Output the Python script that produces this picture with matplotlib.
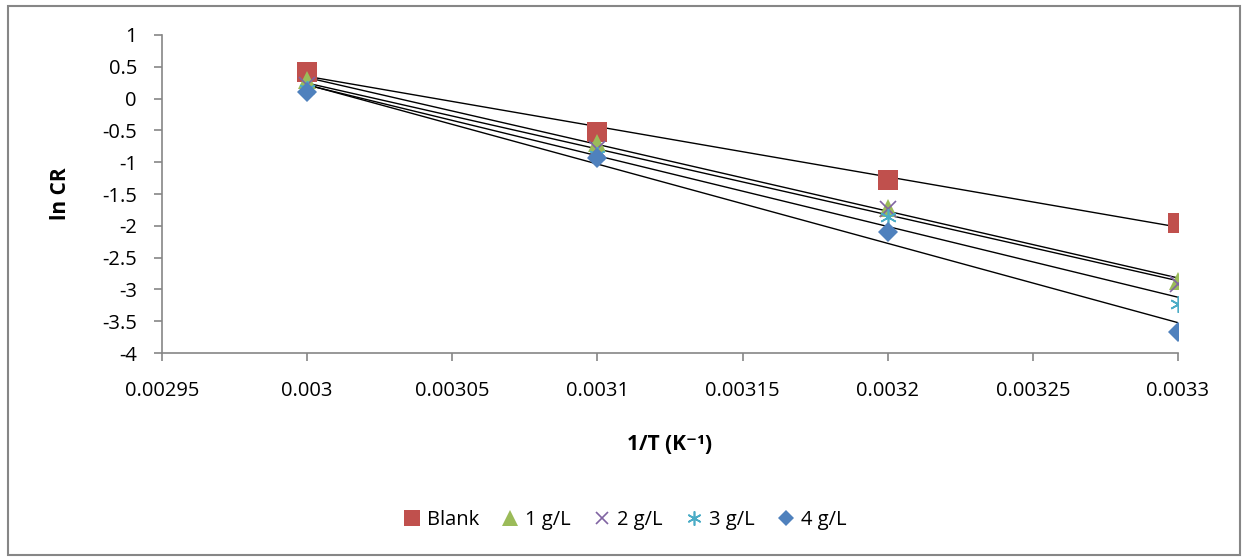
import matplotlib
matplotlib.use("Agg")
import matplotlib.pyplot as plt
from matplotlib.patches import Rectangle
import numpy as np

# ----- DATA -----
inv_T = [0.0030, 0.0031, 0.0032, 0.0033]
blank = [0.42, -0.52, -1.28, -1.96]
c1 = [0.30, -0.70, -1.72, -2.86]
c2 = [0.22, -0.80, -1.74, -2.92]
c3 = [0.15, -0.88, -1.86, -3.23]
c4 = [0.10, -0.94, -2.10, -3.67]

labels = ["Blank", "1 g/L", "2 g/L", "3 g/L", "4 g/L"]
x_ticks = [0.00295, 0.003, 0.00305, 0.0031, 0.00315, 0.0032, 0.00325, 0.0033]
x_tick_labels = ["0.00295", "0.003", "0.00305", "0.0031", "0.00315", "0.0032", "0.00325", "0.0033"]
y_ticks = [1, 0.5, 0, -0.5, -1, -1.5, -2, -2.5, -3, -3.5, -4]

# ----- STYLE -----
plt.rcParams['font.family'] = ['Open Sans', 'DejaVu Sans']
series = [blank, c1, c2, c3, c4]
colors = ['#C0504D', '#9BBB59', '#8064A2', '#4BACC6', '#4F81BD']
markers = ['s', '^', 'x', 'star', 'D']
msizes = [14, 13, 11, 12, 10]
axis_col = '#868686'

fig = plt.figure(figsize=(12.43, 5.59), dpi=100)
ax = fig.add_axes([0.1303, 0.3685, 0.8174, 0.5689])

x = np.array(inv_T)
for ys, col, mk, ms, lab in zip(series, colors, markers, msizes, labels):
    ys = np.array(ys)
    # linear trendline
    k, b = np.polyfit(x, ys, 1)
    ax.plot(x, k * x + b, color='black', lw=1, zorder=2)
    if mk == 'x':
        ax.plot(x, ys, linestyle='none', marker='x', color=col, ms=ms,
                mew=1.2, label=lab, zorder=3)
    elif mk == 'star':
        ax.plot(x, ys, linestyle='none', marker=(6, 2, 0), color=col, ms=ms,
                mew=1.2, label=lab, zorder=3)
    else:
        ax.plot(x, ys, linestyle='none', marker=mk, color=col, ms=ms,
                mew=0, label=lab, zorder=3)

ax.set_xlim(0.00295, 0.0033)
ax.set_ylim(-4, 1)
ax.set_xticks(x_ticks)
ax.set_xticklabels(x_tick_labels)
ax.set_yticks(y_ticks)
ax.set_yticklabels([f"{v:g}" for v in y_ticks])

for s in ['top', 'right']:
    ax.spines[s].set_visible(False)
for s in ['left', 'bottom']:
    ax.spines[s].set_color(axis_col)
    ax.spines[s].set_linewidth(1.2)
ax.tick_params(axis='both', direction='out', length=6, width=1.2,
               color=axis_col, labelsize=14.5, labelcolor='black')
ax.tick_params(axis='y', pad=12)
ax.tick_params(axis='x', pad=14)

ax.set_xlabel("1/T (K\u207b\u00b9)", fontsize=15, fontweight='bold')
ax.set_ylabel("ln CR", fontsize=15, fontweight='bold')
ax.xaxis.set_label_coords(0.5, -0.255)
ax.yaxis.set_label_coords(-0.09, 0.5)

# ----- LEGEND -----
leg = fig.legend(loc='center', bbox_to_anchor=(0.5, 0.07), ncol=5, frameon=False,
                 fontsize=14.5, handletextpad=0.0, columnspacing=0.8, numpoints=1,
                 markerscale=0.85, handlelength=1.5)

# outer chart border
fig.patches.append(Rectangle((0.0065, 0.008), 0.991, 0.982, transform=fig.transFigure,
                             fill=False, edgecolor=axis_col, lw=1.5))

fig.savefig("out.png", dpi=100)
